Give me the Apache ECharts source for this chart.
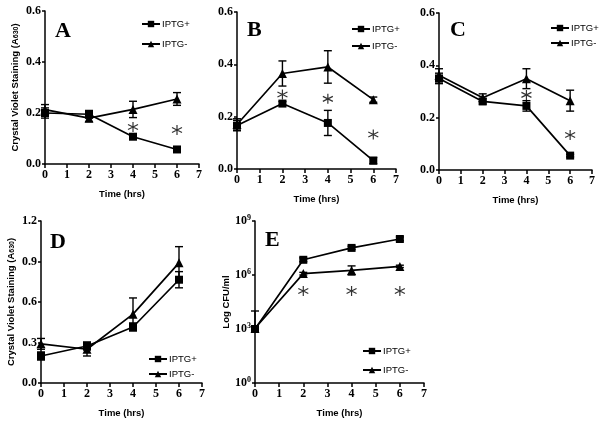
<!DOCTYPE html>
<html>
<head>
<meta charset="utf-8">
<script src="https://cdn.jsdelivr.net/npm/echarts@6/dist/echarts.min.js"></script>
<style>
  html, body { margin: 0; padding: 0; background: #fff; }
  #chart { width: 603px; height: 422px; }
</style>
</head>
<body>
<div id="chart"></div>
<script>
// sampling times (hrs)
var times = [0, 2, 4, 6]

// A
var aPlus = [0.20, 0.195, 0.107, 0.057]
var aPlusErr = [0.02, 0.015, 0.006, 0.005]
var aMinus = [0.213, 0.18, 0.214, 0.255]
var aMinusErr = [0.02, 0.015, 0.032, 0.025]
var aStars = [[4, 0.145], [6, 0.133]]

// B
var bPlus = [0.166, 0.25, 0.176, 0.032]
var bPlusErr = [0.02, 0.008, 0.048, 0.012]
var bMinus = [0.17, 0.365, 0.39, 0.265]
var bMinusErr = [0.022, 0.048, 0.062, 0.01]
var bStars = [[2, 0.285], [4, 0.268], [6, 0.132]]

// C
var cPlus = [0.35, 0.262, 0.245, 0.055]
var cPlusErr = [0.02, 0.01, 0.02, 0.005]
var cMinus = [0.362, 0.276, 0.349, 0.265]
var cMinusErr = [0.025, 0.015, 0.038, 0.04]
var cStars = [[4, 0.287], [6, 0.134]]

// D
var dPlus = [0.2, 0.274, 0.415, 0.765]
var dPlusErr = [0.03, 0.03, 0.03, 0.06]
var dMinus = [0.29, 0.25, 0.51, 0.89]
var dMinusErr = [0.04, 0.05, 0.12, 0.12]

// E (CFU/ml), error bars as [low, high]
var ePlus = [1e3, 7e6, 3.2e7, 1e8]
var ePlusErr = [[8e2, 1.3e3], [5.5e6, 9e6], [2.6e7, 4e7], [8e7, 1.3e8]]
var eMinus = [1.1e3, 1.2e6, 1.8e6, 3e6]
var eMinusErr = [[1e3, 1e4], [1e6, 1.4e6], [1e6, 3.2e6], [2.6e6, 3.5e6]]
var eStars = [[2, 1.3e5], [4, 1.3e5], [6, 1.3e5]]

var chart = echarts.init(document.getElementById('chart'))

var serif = '"Liberation Serif", "Times New Roman", serif'
var sans = '"Liberation Sans", Arial, sans-serif'
var starPath = 'path://M0,-5L0,5M-4.33,-2.5L4.33,2.5M-4.33,2.5L4.33,-2.5'

function pairs (ys) {
  return times.map(function (t, i) { return [t, ys[i]] })
}
function symErr (ys, err) {
  return times.map(function (t, i) { return [t, ys[i] - err[i], ys[i] + err[i]] })
}
function rangeErr (ranges) {
  return times.map(function (t, i) { return [t, ranges[i][0], ranges[i][1]] })
}

function errorBars (idx, data) {
  return {
    type: 'custom',
    xAxisIndex: idx,
    yAxisIndex: idx,
    z: 1,
    silent: true,
    data: data,
    renderItem: function (params, api) {
      var lo = api.coord([api.value(0), api.value(1)])
      var hi = api.coord([api.value(0), api.value(2)])
      var w = 4
      var st = { stroke: '#000', lineWidth: 1.4 }
      return {
        type: 'group',
        children: [
          { type: 'line', shape: { x1: lo[0], y1: lo[1], x2: hi[0], y2: hi[1] }, style: st },
          { type: 'line', shape: { x1: hi[0] - w, y1: hi[1], x2: hi[0] + w, y2: hi[1] }, style: st },
          { type: 'line', shape: { x1: lo[0] - w, y1: lo[1], x2: lo[0] + w, y2: lo[1] }, style: st }
        ]
      }
    }
  }
}

function lineSeries (idx, name, data, symbol) {
  return {
    name: name,
    type: 'line',
    xAxisIndex: idx,
    yAxisIndex: idx,
    z: 3,
    data: data,
    symbol: symbol,
    symbolSize: symbol === 'rect' ? 8 : 9,
    showSymbol: true,
    animation: false,
    lineStyle: { color: '#000', width: 1.7 },
    itemStyle: { color: '#000' }
  }
}

function stars (idx, data) {
  return {
    type: 'scatter',
    xAxisIndex: idx,
    yAxisIndex: idx,
    data: data,
    symbol: starPath,
    symbolSize: 10,
    silent: true,
    itemStyle: { color: 'transparent', borderColor: '#000', borderWidth: 1.2 }
  }
}

var grids = [
  { left: 45, top: 11, width: 154, height: 153 },
  { left: 237, top: 12, width: 159, height: 157 },
  { left: 439, top: 13, width: 153, height: 157 },
  { left: 41, top: 221, width: 161, height: 162 },
  { left: 255, top: 221, width: 169, height: 162 }
]

var axisLine = { lineStyle: { color: '#000', width: 1.5 } }
var axisTick = { length: 4, lineStyle: { color: '#000', width: 1.5 } }
var tickLabel = { color: '#000', fontFamily: serif, fontWeight: 'bold', fontSize: 12 }

var xAxes = grids.map(function (g, i) {
  return {
    type: 'value',
    gridIndex: i,
    min: 0,
    max: 7,
    interval: 1,
    name: 'Time (hrs)',
    nameLocation: 'middle',
    nameGap: 25,
    nameTextStyle: { color: '#000', fontFamily: sans, fontWeight: 'bold', fontSize: 9.5 },
    axisLine: axisLine,
    axisTick: axisTick,
    axisLabel: Object.assign({ margin: 5 }, tickLabel),
    splitLine: { show: false }
  }
})

var yName = 'Crystal Violet Staining (A{sub|630})'
var yNameStyle = {
  color: '#000',
  fontFamily: sans,
  fontWeight: 'bold',
  fontSize: 9.5,
  rich: { sub: { fontFamily: sans, fontWeight: 'bold', fontSize: 7, verticalAlign: 'bottom', padding: [3, 0, 0, 0] } }
}

function linY (i, max, interval, name) {
  return {
    type: 'value',
    gridIndex: i,
    min: 0,
    max: max,
    interval: interval,
    name: name || '',
    nameLocation: 'middle',
    nameGap: 25,
    nameTextStyle: yNameStyle,
    axisLine: axisLine,
    axisTick: Object.assign({}, axisTick, { length: 3 }),
    axisLabel: Object.assign({ margin: 4, formatter: function (v) { return v.toFixed(1) } }, tickLabel),
    splitLine: { show: false }
  }
}

var yAxes = [
  linY(0, 0.6, 0.2, yName),
  linY(1, 0.6, 0.2),
  linY(2, 0.6, 0.2),
  linY(3, 1.2, 0.3, yName),
  {
    type: 'log',
    gridIndex: 4,
    logBase: 10,
    min: 1,
    max: 1e9,
    interval: 3,
    name: 'Log CFU/ml',
    nameLocation: 'middle',
    nameGap: 24,
    nameTextStyle: { color: '#000', fontFamily: sans, fontWeight: 'bold', fontSize: 9.5 },
    axisLine: axisLine,
    axisTick: Object.assign({}, axisTick, { length: 3 }),
    axisLabel: Object.assign({
      margin: 4,
      formatter: function (v) {
        return '10{sup|' + Math.round(Math.log10(v)) + '}'
      },
      rich: { sup: { fontFamily: serif, fontWeight: 'bold', fontSize: 8, verticalAlign: 'top', padding: [0, 0, 6, 0] } }
    }, tickLabel),
    splitLine: { show: false },
    minorTick: { show: false }
  }
]

function legendAt (left, top, gap) {
  return {
    data: ['IPTG+', 'IPTG-'],
    orient: 'vertical',
    left: left,
    top: top,
    itemWidth: 18,
    itemHeight: 8,
    itemGap: gap,
    selectedMode: false,
    textStyle: { color: '#000', fontFamily: sans, fontSize: 9.5, padding: [0, 0, 0, -3] }
  }
}

function letter (text, x, y) {
  return {
    type: 'text',
    left: x,
    top: y,
    style: { text: text, fill: '#000', font: 'bold 22px ' + serif }
  }
}

var series = [
  errorBars(0, symErr(aPlus, aPlusErr)), errorBars(0, symErr(aMinus, aMinusErr)),
  lineSeries(0, 'IPTG+', pairs(aPlus), 'rect'), lineSeries(0, 'IPTG-', pairs(aMinus), 'triangle'),
  stars(0, aStars),
  errorBars(1, symErr(bPlus, bPlusErr)), errorBars(1, symErr(bMinus, bMinusErr)),
  lineSeries(1, 'IPTG+', pairs(bPlus), 'rect'), lineSeries(1, 'IPTG-', pairs(bMinus), 'triangle'),
  stars(1, bStars),
  errorBars(2, symErr(cPlus, cPlusErr)), errorBars(2, symErr(cMinus, cMinusErr)),
  lineSeries(2, 'IPTG+', pairs(cPlus), 'rect'), lineSeries(2, 'IPTG-', pairs(cMinus), 'triangle'),
  stars(2, cStars),
  errorBars(3, symErr(dPlus, dPlusErr)), errorBars(3, symErr(dMinus, dMinusErr)),
  lineSeries(3, 'IPTG+', pairs(dPlus), 'rect'), lineSeries(3, 'IPTG-', pairs(dMinus), 'triangle'),
  errorBars(4, rangeErr(ePlusErr)), errorBars(4, rangeErr(eMinusErr)),
  lineSeries(4, 'IPTG+', pairs(ePlus), 'rect'), lineSeries(4, 'IPTG-', pairs(eMinus), 'triangle'),
  stars(4, eStars)
]

chart.setOption({
  animation: false,
  backgroundColor: '#fff',
  grid: grids,
  xAxis: xAxes,
  yAxis: yAxes,
  legend: [
    legendAt(136, 14, 10),
    legendAt(346, 19, 7),
    legendAt(545, 18, 5),
    legendAt(143, 349, 5),
    legendAt(357, 341, 9)
  ],
  graphic: [
    letter('A', 55, 20),
    letter('B', 247, 19),
    letter('C', 450, 19),
    letter('D', 50, 231),
    letter('E', 265, 229)
  ],
  series: series
})
</script>
</body>
</html>
